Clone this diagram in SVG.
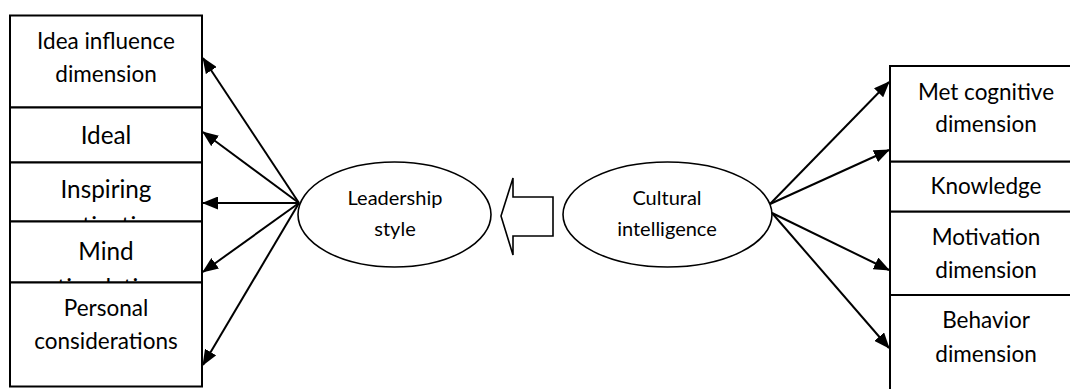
<svg xmlns="http://www.w3.org/2000/svg" width="1070" height="389" viewBox="0 0 1070 389">
  <style>
    .box { fill: #ffffff; stroke: #000000; stroke-width: 2; }
    .oval { fill: #ffffff; stroke: #000000; stroke-width: 1.6; }
    .t { font-family: Lato, "Liberation Sans", sans-serif; fill: #000000; text-anchor: middle; font-size: 22.5px; }
    .big { font-size: 24.3px; }
    .small { font-size: 20px; }
    .link { stroke: #000000; stroke-width: 2; fill: none; marker-end: url(#head); }
  </style>
  <defs>
    <marker id="head" viewBox="0 0 16 13" refX="15" refY="6.5" markerWidth="16" markerHeight="13" markerUnits="userSpaceOnUse" orient="auto">
      <path d="M0,0 L16,6.5 L0,13 Z" fill="#000000"/>
    </marker>
    <!-- boxes too short for two lines: the second line is cut at the box edge -->
    <clipPath id="clip-inspiring"><rect x="10" y="162.5" width="192" height="58.5"/></clipPath>
    <clipPath id="clip-mind"><rect x="10" y="221.5" width="192" height="60.5"/></clipPath>
  </defs>

  <rect width="1070" height="389" fill="#ffffff"/>

  <!-- leadership dimensions (left column) -->
  <g id="idea-influence">
    <rect class="box" x="10" y="15.5" width="192" height="92"/>
    <text class="t" x="106" y="49">Idea influence</text>
    <text class="t" x="106" y="82">dimension</text>
  </g>
  <g id="ideal">
    <rect class="box" x="10" y="107.5" width="192" height="55"/>
    <text class="t big" x="106" y="144">Ideal</text>
  </g>
  <g id="inspiring">
    <rect class="box" x="10" y="162.5" width="192" height="59"/>
    <g clip-path="url(#clip-inspiring)">
      <text class="t big" x="106" y="198">Inspiring</text>
      <text class="t big" x="106" y="235">motivation</text>
    </g>
  </g>
  <g id="mind">
    <rect class="box" x="10" y="221.5" width="192" height="61"/>
    <g clip-path="url(#clip-mind)">
      <text class="t big" x="106" y="260">Mind</text>
      <text class="t big" x="106" y="297">stimulation</text>
    </g>
  </g>
  <g id="personal">
    <rect class="box" x="10" y="282.5" width="192" height="104"/>
    <text class="t" x="106" y="316">Personal</text>
    <text class="t" x="106" y="349">considerations</text>
  </g>

  <!-- central constructs -->
  <g id="leadership-style">
    <ellipse class="oval" cx="394.5" cy="214.5" rx="96.5" ry="52.5"/>
    <text class="t small" x="395" y="205">Leadership</text>
    <text class="t small" x="395" y="236">style</text>
  </g>
  <g id="cultural-intelligence">
    <ellipse class="oval" cx="667.5" cy="214.5" rx="104.5" ry="52.5"/>
    <text class="t small" x="667" y="205">Cultural</text>
    <text class="t small" x="667" y="236">intelligence</text>
  </g>

  <!-- cultural intelligence dimensions (right column) -->
  <g id="metacognitive">
    <rect class="box" x="890" y="66" width="194" height="95.7"/>
    <text class="t" x="986" y="100">Met cognitive</text>
    <text class="t" x="986" y="132">dimension</text>
  </g>
  <g id="knowledge">
    <rect class="box" x="890" y="161.7" width="194" height="50"/>
    <text class="t" x="986" y="194">Knowledge</text>
  </g>
  <g id="motivation">
    <rect class="box" x="890" y="211.7" width="194" height="83.3"/>
    <text class="t" x="986" y="245">Motivation</text>
    <text class="t" x="986" y="278">dimension</text>
  </g>
  <g id="behavior">
    <rect class="box" x="890" y="295" width="194" height="110"/>
    <text class="t" x="986" y="328">Behavior</text>
    <text class="t" x="986" y="362">dimension</text>
  </g>

  <g id="connectors">
    <!-- block arrow: cultural intelligence shapes leadership style -->
    <polygon points="501,216 513,178 513,197 553,197 553,236 513,236 513,255" fill="#ffffff" stroke="#000000" stroke-width="1.6" stroke-linejoin="miter"/>
    <!-- leadership style to its dimensions -->
    <line class="link" x1="299" y1="203" x2="203" y2="58"/>
    <line class="link" x1="299" y1="203" x2="203" y2="132"/>
    <line class="link" x1="299" y1="203" x2="203" y2="203"/>
    <line class="link" x1="299" y1="203" x2="203" y2="272"/>
    <line class="link" x1="299" y1="203" x2="203" y2="365"/>
    <!-- cultural intelligence to its dimensions -->
    <line class="link" x1="770" y1="204" x2="889" y2="82"/>
    <line class="link" x1="770" y1="204" x2="889" y2="150"/>
    <line class="link" x1="772" y1="213" x2="889" y2="270"/>
    <line class="link" x1="772" y1="213" x2="889" y2="348"/>
  </g>
</svg>
